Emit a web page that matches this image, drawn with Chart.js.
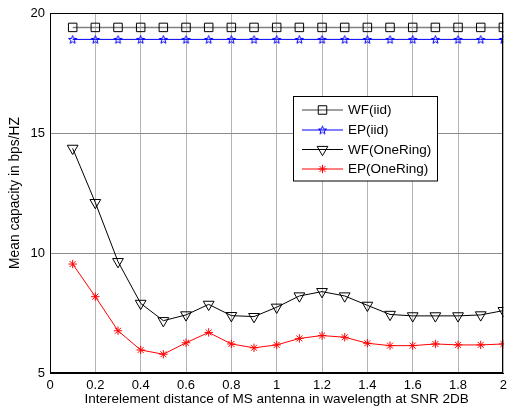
<!DOCTYPE html>
<html>
<head>
<meta charset="utf-8">
<script src="https://cdn.jsdelivr.net/npm/chart.js@4/dist/chart.umd.min.js"></script>
<style>
html,body{margin:0;padding:0;background:#fff;}
#wrap{width:512px;height:412px;position:relative;}
</style>
</head>
<body>
<div id="wrap"><canvas id="c" width="512" height="412"></canvas></div>
<script>
// ---- data ----
const xValues = [0.1,0.2,0.3,0.4,0.5,0.6,0.7,0.8,0.9,1.0,1.1,1.2,1.3,1.4,1.5,1.6,1.7,1.8,1.9,2.0];
const wfIid = [19.4,19.4,19.4,19.4,19.4,19.4,19.4,19.4,19.4,19.4,19.4,19.4,19.4,19.4,19.4,19.4,19.4,19.4,19.4,19.4];
const epIid = [18.9,18.9,18.9,18.9,18.9,18.9,18.9,18.9,18.9,18.9,18.9,18.9,18.9,18.9,18.9,18.9,18.9,18.9,18.9,18.9];
const wfOneRing = [14.36,12.1,9.64,7.9,7.18,7.42,7.86,7.39,7.35,7.74,8.21,8.39,8.21,7.82,7.44,7.38,7.38,7.38,7.42,7.6];
const epOneRing = [9.54,8.18,6.76,5.96,5.78,6.26,6.69,6.21,6.05,6.17,6.44,6.56,6.49,6.24,6.14,6.14,6.21,6.17,6.17,6.21];
const seriesLabels = ['WF(iid)','EP(iid)','WF(OneRing)','EP(OneRing)'];
const xTitle = 'Interelement distance of MS antenna in wavelength at SNR 2DB';
const yTitle = 'Mean capacity in bps/HZ';

const FONT = '"Liberation Sans", Arial, sans-serif';

// pentagram marker
function pentagram(color){
  const s = 11, cv = document.createElement('canvas');
  cv.width = s; cv.height = s;
  const g = cv.getContext('2d');
  const cx = s/2, cy = s/2 + 0.4, R = 4.3, r = 1.8;
  g.beginPath();
  for (let i = 0; i < 10; i++){
    const a = -Math.PI/2 + i*Math.PI/5;
    const rad = i % 2 === 0 ? R : r;
    const px = cx + rad*Math.cos(a), py = cy + rad*Math.sin(a);
    if (i === 0) g.moveTo(px, py); else g.lineTo(px, py);
  }
  g.closePath();
  g.strokeStyle = color; g.lineWidth = 1; g.stroke();
  return cv;
}
const starImg = pentagram('#0000ff');

function pts(ys){ return xValues.map((x,i)=>({x:x, y:ys[i]})); }

const datasets = [
  {label: seriesLabels[0], data: pts(wfIid), borderColor:'#808080', borderWidth:1.5,
   pointStyle:'rect', pointRadius:6, pointBorderColor:'#000', pointBackgroundColor:'rgba(0,0,0,0)', pointBorderWidth:1},
  {label: seriesLabels[1], data: pts(epIid), borderColor:'#0000ff', borderWidth:1,
   pointStyle:starImg, pointRadius:5, pointBorderColor:'#0000ff', pointBackgroundColor:'rgba(0,0,0,0)'},
  {label: seriesLabels[2], data: pts(wfOneRing), borderColor:'#000', borderWidth:1,
   pointStyle:'triangle', rotation:180, pointRadius:6.2, pointBorderColor:'#000', pointBackgroundColor:'rgba(0,0,0,0)', pointBorderWidth:1},
  {label: seriesLabels[3], data: pts(epOneRing), borderColor:'#ff0000', borderWidth:1,
   pointStyle:'star', pointRadius:4.2, pointBorderColor:'#ff0000', pointBackgroundColor:'rgba(0,0,0,0)', pointBorderWidth:1}
];

const framePlugin = {
  id:'frame',
  afterDraw(chart){
    const {ctx, chartArea:a} = chart;
    ctx.save();
    ctx.strokeStyle = '#000'; ctx.lineWidth = 1;
    ctx.strokeRect(Math.round(a.left)+0.5, Math.round(a.top)+0.5, Math.round(a.right-a.left)-1, Math.round(a.bottom-a.top)-1);
    // legend box
    const bx = 293.5, by = 96.5, bw = 144, bh = 84.5;
    ctx.fillStyle = '#fff';
    ctx.fillRect(bx, by, bw, bh);
    ctx.strokeRect(bx, by, bw, bh);
    const ys = [110, 130, 149.5, 169];
    chart.data.datasets.forEach((ds, i) => {
      const y = ys[i];
      ctx.strokeStyle = ds.borderColor; ctx.lineWidth = ds.borderWidth;
      ctx.beginPath(); ctx.moveTo(302, y); ctx.lineTo(343, y); ctx.stroke();
      ctx.strokeStyle = ds.pointBorderColor; ctx.fillStyle = 'rgba(0,0,0,0)';
      ctx.lineWidth = ds.pointBorderWidth || 1;
      Chart.helpers.drawPoint(ctx, {pointStyle: ds.pointStyle, radius: ds.pointRadius, rotation: ds.rotation || 0, borderWidth: ds.pointBorderWidth || 1}, 322.5, y);
      ctx.fillStyle = '#000';
      ctx.font = '13.5px ' + FONT;
      ctx.textBaseline = 'middle'; ctx.textAlign = 'left';
      ctx.fillText(ds.label, 348, y + 0.5);
    });
    ctx.restore();
  }
};

new Chart(document.getElementById('c'), {
  type:'line',
  data:{datasets},
  options:{
    responsive:false, animation:false, devicePixelRatio:1,
    layout:{padding:{left:0, top:13, right:4, bottom:0}},
    plugins:{legend:{display:false}, tooltip:{enabled:false}},
    elements:{line:{tension:0}},
    scales:{
      x:{type:'linear', min:0, max:2,
        ticks:{stepSize:0.2, padding:5, color:'#000', font:{family:FONT, size:13},
          callback:(v)=>String(Math.round(v*10)/10)},
        grid:{color:'#b4b4b4', lineWidth:1, drawTicks:false},
        border:{display:true, color:'#000'},
        title:{display:true, text:xTitle, color:'#000', font:{family:FONT, size:13.5}, padding:{top:0,bottom:4.5}},
        afterFit(s){ s.height = 39; }
      },
      y:{type:'linear', min:5, max:20,
        ticks:{stepSize:5, padding:5, color:'#000', font:{family:FONT, size:13}},
        grid:{color:'#8c8c8c', lineWidth:1, drawTicks:false},
        border:{display:true, color:'#000'},
        title:{display:true, text:yTitle, color:'#000', font:{family:FONT, size:13.8}, padding:{top:7,bottom:0}},
        afterFit(s){ s.width = 50; }
      }
    }
  },
  plugins:[framePlugin]
});
</script>
</body>
</html>
